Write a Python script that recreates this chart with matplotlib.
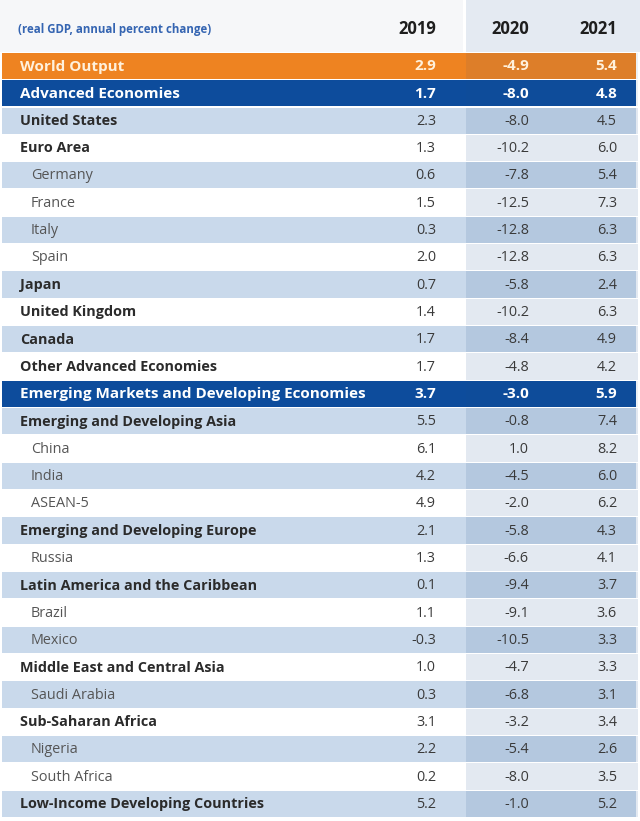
import matplotlib.pyplot as plt

plt.rcParams['font.family'] = ['Open Sans', 'DejaVu Sans']

# data
regions = ["World Output", "Advanced Economies", "United States", "Euro Area",
           "Germany", "France", "Italy", "Spain", "Japan", "United Kingdom",
           "Canada", "Other Advanced Economies",
           "Emerging Markets and Developing Economies",
           "Emerging and Developing Asia", "China", "India", "ASEAN-5",
           "Emerging and Developing Europe", "Russia",
           "Latin America and the Caribbean", "Brazil", "Mexico",
           "Middle East and Central Asia", "Saudi Arabia",
           "Sub-Saharan Africa", "Nigeria", "South Africa",
           "Low-Income Developing Countries"]
years = ["2019", "2020", "2021"]
gdp_2019 = [2.9, 1.7, 2.3, 1.3, 0.6, 1.5, 0.3, 2.0, 0.7, 1.4, 1.7, 1.7,
            3.7, 5.5, 6.1, 4.2, 4.9, 2.1, 1.3, 0.1, 1.1, -0.3, 1.0, 0.3,
            3.1, 2.2, 0.2, 5.2]
gdp_2020 = [-4.9, -8.0, -8.0, -10.2, -7.8, -12.5, -12.8, -12.8, -5.8, -10.2,
            -8.4, -4.8, -3.0, -0.8, 1.0, -4.5, -2.0, -5.8, -6.6, -9.4, -9.1,
            -10.5, -4.7, -6.8, -3.2, -5.4, -8.0, -1.0]
gdp_2021 = [5.4, 4.8, 4.5, 6.0, 5.4, 7.3, 6.3, 6.3, 2.4, 6.3, 4.9, 4.2,
            5.9, 7.4, 8.2, 6.0, 6.2, 4.3, 4.1, 3.7, 3.6, 3.3, 3.3, 3.1,
            3.4, 2.6, 3.5, 5.2]
# row type: 'world', 'group', 'bold', 'sub'
kinds = ["world", "group", "bold", "bold", "sub", "sub", "sub", "sub", "bold",
         "bold", "bold", "bold", "group", "bold", "sub", "sub", "sub", "bold",
         "sub", "bold", "sub", "sub", "bold", "sub", "bold", "sub", "sub", "bold"]

fig = plt.figure(figsize=(6.4, 8.21), dpi=100)
ax = fig.add_axes([0, 0, 1, 1])
ax.set_xlim(0, 640)
ax.set_ylim(821, 0)
ax.axis('off')

top, step = 66, 27.33
ys = [top + i * step for i in range(len(regions))]

# header background
ax.barh(26, 463, left=0, height=52, color='#F6F7F9', zorder=0)
ax.barh(26, 174, left=466, height=52, color='#E4EAF2', zorder=0)

stripe = 0
for i, (y, k) in enumerate(zip(ys, kinds)):
    if k == "world":
        bg, fg = '#EE8321', '#FFF1DC'
    elif k == "group":
        bg, fg = '#0D4C9C', '#FFFFFF'
        stripe = 0
    else:
        bg = '#C9D9EB' if stripe % 2 == 0 else '#FFFFFF'
        fg = '#2B2B2B' if k == "bold" else '#555555'
        stripe += 1
    ax.barh(y, 634, left=2, height=26.3, color=bg, zorder=1)
    # projection shading
    ax.barh(y, 172, left=466, height=26.3, color='#1F4E8C',
            alpha=0.12 if k not in ("world", "group") else 0.08, zorder=2)

    weight = 'bold' if k != "sub" else 'normal'
    x0 = 20 if k != "sub" else 31
    fs = 11 if k in ("world", "group") else 10.4
    ax.text(x0, y + 0.5, regions[i], ha='left', va='center', fontsize=fs,
            fontweight=weight, color=fg, zorder=3)
    num_weight = 'bold' if k in ("world", "group") else 'normal'
    num_col = fg if k in ("world", "group") else '#3A3A3A'
    for xr, v in zip((436, 529, 617), (gdp_2019[i], gdp_2020[i], gdp_2021[i])):
        ax.text(xr, y + 0.5, f"{v:.1f}", ha='right', va='center', fontsize=fs,
                fontweight=num_weight, color=num_col, zorder=3)

ax.text(18, 29, "(real GDP, annual percent change)", ha='left', va='center',
        fontsize=8.3, fontweight='bold', color='#3565B2', zorder=3)
for xr, yr in zip((436, 529, 617), years):
    ax.text(xr, 29, yr, ha='right', va='center', fontsize=12,
            fontweight='bold', color='#1E1E1E', zorder=3)

fig.savefig('out.png', dpi=100)
